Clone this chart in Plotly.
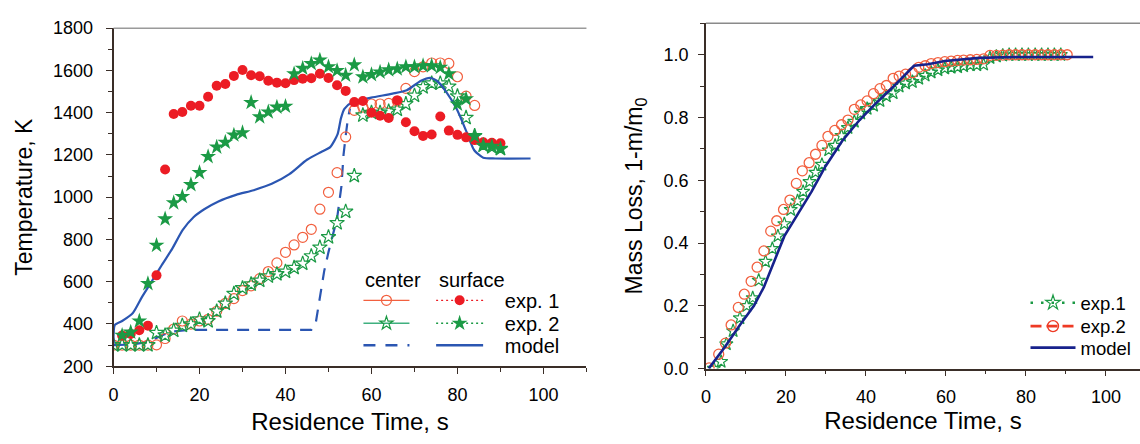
import plotly.graph_objects as go

# ---------------- Left panel: temperature ----------------
surf1_t = [2,4,6,8,10,12,14,16,18,20,22,24,26,28,30,32,34,36,38,40,42,44,46,48,50,52,54,56,58,60,62,64,66,68,70,72,74,76,78,80,82,84,86,88,90]
surf1_T = [345,352,370,392,630,1131,1394,1403,1433,1433,1475,1527,1536,1574,1602,1577,1572,1551,1542,1539,1554,1561,1563,1584,1564,1530,1503,1450,1455,1400,1385,1375,1458,1355,1312,1290,1297,1382,1315,1295,1283,1270,1260,1257,1255]

surf2_t = [2,4,6,8,10,12,14,16,18,20,22,24,26,28,30,32,34,36,38,40,42,44,46,48,50,52,54,56,58,60,62,64,66,68,70,72,74,76,78,80,82,84,86,88,90]
surf2_T = [346,361,414,591,772,897,973,1003,1059,1116,1192,1237,1260,1294,1305,1448,1380,1403,1426,1430,1584,1610,1632,1649,1617,1599,1577,1626,1569,1580,1592,1602,1607,1617,1617,1622,1622,1614,1584,1440,1465,1288,1245,1240,1230]

cent1_t = [0,2,4,6,8,10,12,14,16,18,20,22,24,26,28,30,32,34,36,38,40,42,44,46,48,50,52,54,56,58,60,62,64,66,68,70,72,74,76,78,80,82,84]
cent1_T = [300,300,300,300,300,301,331,376,414,399,414,422,460,497,520,558,580,614,648,689,739,774,810,848,943,1023,1116,1285,1411,1426,1441,1441,1444,1455,1515,1594,1617,1635,1635,1633,1570,1478,1434]

cent2_t = [0,2,4,6,8,10,12,14,16,18,20,22,24,26,28,30,32,34,36,38,40,42,44,46,48,50,52,54,56,58,60,62,64,66,68,70,72,74,76,78,80,82,84,86,88,90]
cent2_T = [300,300,300,300,300,358,346,369,392,399,422,414,460,497,543,570,588,606,626,636,648,666,686,721,762,811,878,932,1101,1388,1400,1400,1406,1415,1441,1481,1521,1539,1539,1524,1478,1376,1290,1245,1237,1229]

model_c_t = [0,4,8,10,12,14,16,18,30,46,47,48,49,50,51,52,53,53.5,54,54.5,55]
model_c_T = [300,302,315,335,352,365,370,372,372,372,400,520,650,740,820,900,1050,1200,1290,1370,1420]

model_s_t = [0,0.3,2,4.5,6.6,8.7,11.2,13.6,16.1,18.6,21.1,24.4,28.5,32.6,36.8,40.9,45,48.3,50.4,52.1,52.9,53.7,55.4,59.9,64.9,68.2,71.5,73.6,75.2,77.3,79.8,82.2,83.9,86,88.8,97]
model_s_T = [300,395,414,452,527,595,678,754,845,905,943,980,1011,1033,1063,1109,1177,1214,1237,1297,1373,1418,1448,1471,1490,1506,1551,1565,1551,1501,1418,1305,1222,1187,1183,1183]

# ---------------- Right panel: mass loss ----------------
ml2_t = [0.8,3.2,4.9,6.3,8.1,9.6,11.3,12.8,14.5,16.2,17.7,19.4,21.0,22.6,24.1,25.8,27.4,29.0,30.5,32.2,33.9,35.5,37.1,38.7,40.3,41.9,43.5,45.1,46.8,48.3,49.9,51.6,53.2,54.8,56.3,58.0,59.7,61.3,62.9,64.4,66.1,67.7,69.4,71.0,72.6,74.2,75.8,77.4,79.0,80.6,82.3,83.9,85.5,87.1,88.7,90.3]
ml2_y = [0.002,0.046,0.081,0.139,0.195,0.237,0.278,0.323,0.375,0.438,0.471,0.507,0.537,0.590,0.630,0.656,0.683,0.711,0.740,0.759,0.777,0.792,0.826,0.840,0.853,0.876,0.892,0.902,0.925,0.932,0.938,0.943,0.960,0.965,0.972,0.975,0.978,0.980,0.982,0.983,0.984,0.985,0.987,0.998,0.998,0.999,1.0,1.0,1.0,1.0,1.0,1.0,1.0,1.0,1.0,1.0]

ml1_t = [2.0,3.8,5.1,6.8,8.5,10.2,11.7,13.2,14.9,16.6,18.0,19.6,21.2,22.9,24.3,25.9,27.4,29.0,30.7,32.3,33.9,35.5,37.1,38.7,40.3,41.9,43.5,45.1,46.8,48.3,49.9,51.6,53.2,54.8,56.3,58.0,59.7,61.3,62.9,64.4,66.1,67.7,69.4,71.0,72.6,74.2,75.8,77.4,79.0,80.6,82.3,83.9,85.5,87.1,88.7]
ml1_y = [0.0,0.022,0.078,0.12,0.161,0.2,0.225,0.281,0.341,0.382,0.422,0.461,0.506,0.534,0.564,0.595,0.625,0.65,0.696,0.711,0.742,0.767,0.787,0.813,0.828,0.838,0.853,0.868,0.878,0.899,0.909,0.914,0.924,0.934,0.944,0.951,0.957,0.959,0.961,0.964,0.967,0.967,0.969,0.99,0.995,0.998,1.0,1.0,1.0,1.0,1.0,1.0,1.0,1.0,1.0]

mlm_t = [0.7,4.7,8.5,12,14.5,17.1,19.6,23,26.4,29.9,34.1,38.4,42.7,46.9,52,55.5,59.7,68.3,76.8,96.8]
mlm_y = [0,0.068,0.139,0.2,0.26,0.341,0.422,0.493,0.564,0.645,0.726,0.792,0.848,0.899,0.965,0.97,0.98,0.99,0.993,0.993]

left_legend_names = ["exp. 1", "exp. 2", "model"]
right_legend_names = ["exp.1", "exp.2", "model"]

RED = "#ec1c24"
ORANGE = "#f2603f"
GREEN = "#1b9a45"
TEAL = "#3fb07f"
BLUE = "#2b56b2"
NAVY = "#17228c"
FONT = "Liberation Sans, Arial, sans-serif"

fig = go.Figure()

# left panel data
fig.add_trace(go.Scatter(x=model_c_t, y=model_c_T, mode="lines", line=dict(color=BLUE, width=2.2, dash="12px,9px"),
                         showlegend=False, xaxis="x", yaxis="y"))
fig.add_trace(go.Scatter(x=cent1_t, y=cent1_T, mode="markers",
                         marker=dict(symbol="circle-open", size=10, color=ORANGE, line=dict(width=1.2)),
                         showlegend=False, xaxis="x", yaxis="y"))
fig.add_trace(go.Scatter(x=cent2_t, y=cent2_T, mode="markers",
                         marker=dict(symbol="star-open", size=11, color=GREEN, line=dict(width=1.2)),
                         showlegend=False, xaxis="x", yaxis="y"))
fig.add_trace(go.Scatter(x=model_s_t, y=model_s_T, mode="lines", line=dict(color=BLUE, width=2.2, shape="spline", smoothing=0.6),
                         showlegend=False, xaxis="x", yaxis="y"))
fig.add_trace(go.Scatter(x=surf1_t, y=surf1_T, mode="markers",
                         marker=dict(symbol="circle", size=10, color=RED),
                         showlegend=False, xaxis="x", yaxis="y"))
fig.add_trace(go.Scatter(x=surf2_t, y=surf2_T, mode="markers",
                         marker=dict(symbol="star", size=12, color=GREEN),
                         showlegend=False, xaxis="x", yaxis="y"))

# right panel data
fig.add_trace(go.Scatter(x=ml1_t, y=ml1_y, mode="markers",
                         marker=dict(symbol="star-open", size=10, color=GREEN, line=dict(width=1.2)),
                         showlegend=False, xaxis="x2", yaxis="y2"))
fig.add_trace(go.Scatter(x=ml2_t, y=ml2_y, mode="markers",
                         marker=dict(symbol="circle-open", size=10, color=ORANGE, line=dict(width=1.3)),
                         showlegend=False, xaxis="x2", yaxis="y2"))
fig.add_trace(go.Scatter(x=mlm_t, y=mlm_y, mode="lines", line=dict(color=NAVY, width=2.6),
                         showlegend=False, xaxis="x2", yaxis="y2"))

# ---- legend entries (one legend per row so rows can be placed exactly) ----
NB = "\u00a0"
legend_specs = [
    # (legend id, name, mode, line, marker, xaxis, yaxis)
    ("legend", NB, "lines+markers", dict(color=ORANGE, width=1.3),
     dict(symbol="circle-open", size=10, color=ORANGE, line=dict(width=1.2)), "x", "y"),
    ("legend2", NB, "lines+markers", dict(color=TEAL, width=1.3),
     dict(symbol="star-open", size=10, color=GREEN, line=dict(width=1.2)), "x", "y"),
    ("legend3", NB, "lines", dict(color=BLUE, width=2.6, dash="12px,10px"), None, "x", "y"),
    ("legend4", NB * 3 + left_legend_names[0], "lines+markers", dict(color=RED, width=1.3, dash="2px,3px"),
     dict(symbol="circle", size=10, color=RED), "x", "y"),
    ("legend5", NB * 3 + left_legend_names[1], "lines+markers", dict(color=GREEN, width=1.3, dash="2px,3px"),
     dict(symbol="star", size=12, color=GREEN), "x", "y"),
    ("legend6", NB * 3 + left_legend_names[2], "lines", dict(color=BLUE, width=2.6), None, "x", "y"),
    ("legend7", right_legend_names[0], "lines+markers", dict(color=GREEN, width=2.5, dash="2.5px,8px"),
     dict(symbol="star-open", size=11, color=GREEN, line=dict(width=1.2)), "x2", "y2"),
    ("legend8", right_legend_names[1], "lines+markers", dict(color="#ee3a24", width=2.6, dash="11px,5px"),
     dict(symbol="circle-open", size=11, color="#ee3a24", line=dict(width=1.4)), "x2", "y2"),
    ("legend9", right_legend_names[2], "lines", dict(color=NAVY, width=2.8), None, "x2", "y2"),
]
for lid, name, mode, line, marker, xa, ya in legend_specs:
    kw = dict(x=[None], y=[None], mode=mode, name=name, line=line, legend=lid, xaxis=xa, yaxis=ya, showlegend=True)
    if marker is not None:
        kw["marker"] = marker
    fig.add_trace(go.Scatter(**kw))

# legend row geometry (pixels in the 1140x444 page)
W, H = 1140, 444
rows_left = [304, 328, 351]
rows_right = [307, 331.5, 354]
legend_layout = {}
for i, lid in enumerate(["legend", "legend2", "legend3"]):
    legend_layout[lid] = dict(x=355 / W, y=1 - rows_left[i] / H, xanchor="left", yanchor="middle",
                              bgcolor="rgba(0,0,0,0)", font=dict(family=FONT, size=20, color="black"),
                              itemwidth=46, tracegroupgap=0)
for i, lid in enumerate(["legend4", "legend5", "legend6"]):
    legend_layout[lid] = dict(x=428 / W, y=1 - rows_left[i] / H, xanchor="left", yanchor="middle",
                              bgcolor="rgba(0,0,0,0)", font=dict(family=FONT, size=20, color="black"),
                              itemwidth=47, tracegroupgap=0)
for i, lid in enumerate(["legend7", "legend8", "legend9"]):
    legend_layout[lid] = dict(x=1025 / W, y=1 - rows_right[i] / H, xanchor="left", yanchor="middle",
                              bgcolor="rgba(0,0,0,0)", font=dict(family=FONT, size=18.5, color="black"),
                              itemwidth=45, tracegroupgap=0)

AX = "#3a2e28"
tickfont = dict(family=FONT, size=18, color="black")
titlefont_x = dict(family=FONT, size=24, color="black")
titlefont_y = dict(family=FONT, size=23, color="black")

common_x = dict(showgrid=False, zeroline=False, showline=True, linecolor=AX, linewidth=1.6,
                ticks="outside", ticklen=6, tickwidth=1.4, tickcolor=AX, tickfont=tickfont,
                ticklabelstandoff=5,
                minor=dict(ticks="outside", ticklen=4, tickwidth=1.2, tickcolor=AX, dtick=10))

fig.update_layout(
    width=W, height=H,
    margin=dict(l=0, r=0, t=0, b=0),
    paper_bgcolor="white", plot_bgcolor="white",
    font=dict(family=FONT, color="black"),
    xaxis=dict(domain=[109 / W, 584 / W], range=[0, 110], tickvals=[0, 20, 40, 60, 80, 100],
               title=dict(text="Residence Time, s", font=titlefont_x, standoff=10), **common_x),
    yaxis=dict(domain=[(H - 373) / H, (H - 19) / H], range=[200, 1800], tickvals=list(range(200, 1801, 200)),
               showgrid=False, zeroline=False, showline=True, linecolor=AX, linewidth=1.6,
               ticks="outside", ticklen=6, tickwidth=1.4, tickcolor=AX, tickfont=tickfont,
               ticklabelstandoff=9,
               minor=dict(ticks="outside", ticklen=4, tickwidth=1.2, tickcolor=AX, dtick=100),
               title=dict(text="Temperature, K", font=titlefont_y, standoff=14)),
    xaxis2=dict(domain=[704 / W, 1.0], range=[0, 108.5], tickvals=[0, 20, 40, 60, 80, 100], anchor="y2",
                title=dict(text="Residence Time, s", font=titlefont_x, standoff=6), **common_x),
    yaxis2=dict(domain=[(H - 375.5) / H, (H - 14) / H], range=[0, 1.1], tickvals=[0, 0.2, 0.4, 0.6, 0.8, 1.0],
                tickformat=".1f", anchor="x2",
                showgrid=False, zeroline=False, showline=True, linecolor=AX, linewidth=1.6,
                ticks="outside", ticklen=6, tickwidth=1.4, tickcolor=AX, tickfont=tickfont,
                ticklabelstandoff=6,
                minor=dict(ticks="outside", ticklen=4, tickwidth=1.2, tickcolor=AX, dtick=0.1),
                title=dict(text="Mass Loss, 1-m/m<sub>0</sub>", font=titlefont_y, standoff=14)),
    shapes=[
        dict(type="line", xref="x domain", yref="y domain", x0=0, x1=1, y0=1, y1=1,
             line=dict(color="#9a9a9a", width=1.5)),
        dict(type="line", xref="x2 domain", yref="y2 domain", x0=0, x1=1, y0=1, y1=1,
             line=dict(color="#8a8a8a", width=1.5)),
    ],
    annotations=[
        dict(text="center", xref="paper", yref="paper", x=360 / W, y=1 - 283 / H, xanchor="left", yanchor="middle",
             showarrow=False, font=dict(family=FONT, size=20, color="black")),
        dict(text="surface", xref="paper", yref="paper", x=434 / W, y=1 - 283 / H, xanchor="left", yanchor="middle",
             showarrow=False, font=dict(family=FONT, size=20, color="black")),
    ],
    **legend_layout,
)

fig.write_html("out.html")
